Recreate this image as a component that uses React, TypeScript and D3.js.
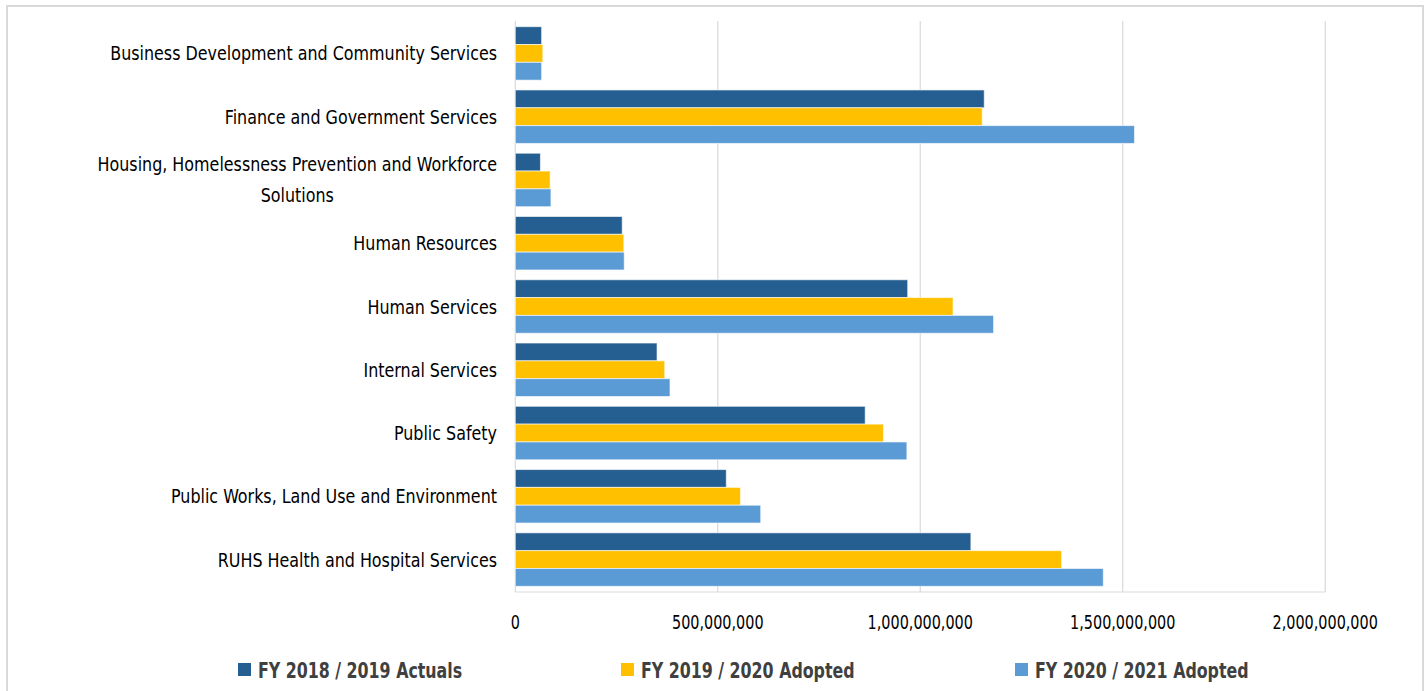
import React, { useEffect, useRef } from "react";
import * as d3 from "d3";

const categories = [
  "Business Development and Community Services",
  "Finance and Government Services",
  "Housing, Homelessness Prevention and Workforce|Solutions",
  "Human Resources",
  "Human Services",
  "Internal Services",
  "Public Safety",
  "Public Works, Land Use and Environment",
  "RUHS Health and Hospital Services",
];

const seriesNames = [
  "FY 2018 / 2019 Actuals",
  "FY 2019 / 2020 Adopted",
  "FY 2020 / 2021 Adopted",
];

const actuals1819 = [65e6, 1158e6, 62e6, 264e6, 969e6, 350e6, 864e6, 521e6, 1125e6];
const adopted1920 = [68e6, 1153e6, 86e6, 268e6, 1081e6, 369e6, 909e6, 556e6, 1349e6];
const adopted2021 = [65e6, 1529e6, 88e6, 269e6, 1181e6, 382e6, 967e6, 606e6, 1452e6];

const xTicks = [0, 500e6, 1000e6, 1500e6, 2000e6];
const colors = ["#255E91", "#FFC000", "#5B9BD5"];

const FONT = "'DejaVu Sans Condensed', 'Liberation Sans Narrow', 'Arial Narrow', sans-serif";

export default function App() {
  const ref = useRef<SVGSVGElement | null>(null);

  useEffect(() => {
    const svg = d3.select(ref.current);
    svg.selectAll("*").remove();

    const left = 515.3, right = 1325.2, top = 21, bottom = 592;
    const x = d3.scaleLinear().domain([0, 2000e6]).range([left, right]);
    const y = d3.scaleBand<number>().domain(d3.range(categories.length)).range([top, bottom]).paddingInner(0.155).paddingOuter(0.09);
    const ySub = d3.scaleBand<number>().domain([0, 1, 2]).range([0, y.bandwidth()]);
    const series = [actuals1819, adopted1920, adopted2021];

    // outer border
    svg.append("rect").attr("x", 7).attr("y", 6).attr("width", 1416).attr("height", 720)
      .attr("fill", "#fff").attr("stroke", "#d9d9d9").attr("stroke-width", 2);

    // gridlines
    svg.append("g").selectAll("line").data(xTicks).join("line")
      .attr("x1", (d) => x(d)).attr("x2", (d) => x(d))
      .attr("y1", top).attr("y2", bottom)
      .attr("stroke", "#d9d9d9").attr("stroke-width", 1.2);
    svg.append("line").attr("x1", left).attr("x2", right).attr("y1", bottom).attr("y2", bottom)
      .attr("stroke", "#d9d9d9").attr("stroke-width", 1.2);

    // bars
    const groups = svg.append("g").selectAll("g").data(categories).join("g")
      .attr("transform", (_, i) => `translate(0,${y(i)})`);
    groups.selectAll("rect").data((_, i) => series.map((s, k) => ({ k, v: s[i] }))).join("rect")
      .attr("x", x(0))
      .attr("y", (d) => ySub(d.k)!)
      .attr("width", (d) => x(d.v) - x(0))
      .attr("height", ySub.bandwidth())
      .attr("fill", (d) => colors[d.k])
      .attr("stroke", "#fff").attr("stroke-opacity", 0.6).attr("stroke-width", 1);

    // category labels
    const SX_LABEL = 0.885;
    const labelG = svg.append("g").attr("font-family", FONT).attr("font-size", 20).attr("fill", "#000");
    categories.forEach((c, i) => {
      const lines = c.split("|");
      const cy = y(i)! + y.bandwidth() / 2;
      const lh = 31;
      const y0 = cy - ((lines.length - 1) * lh) / 2;
      const first = labelG.append("text")
        .attr("transform", `translate(497,${y0}) scale(${SX_LABEL},1)`)
        .attr("dy", "0.35em").attr("text-anchor", "end").text(lines[0]);
      if (lines.length > 1) {
        const w = (first.node() as SVGTextElement).getComputedTextLength() * SX_LABEL;
        const center = 497 - w / 2;
        for (let j = 1; j < lines.length; j++) {
          labelG.append("text")
            .attr("transform", `translate(${center},${y0 + j * lh}) scale(${SX_LABEL},1)`)
            .attr("dy", "0.35em").attr("text-anchor", "middle").text(lines[j]);
        }
      }
    });

    // x tick labels
    const fmt = d3.format(",");
    svg.append("g").attr("font-family", FONT).attr("font-size", 20).attr("fill", "#000")
      .selectAll("text").data(xTicks).join("text")
      .attr("transform", (d) => `translate(${x(d)},622) scale(0.8,1)`).attr("dy", "0.35em")
      .attr("text-anchor", "middle").text((d) => fmt(d));

    // legend
    const legendX = [238, 621, 1015];
    const lg = svg.append("g").attr("font-family", FONT).attr("font-size", 22).attr("font-weight", "bold").attr("fill", "#404040");
    seriesNames.forEach((n, k) => {
      lg.append("rect").attr("x", legendX[k]).attr("y", 663).attr("width", 13).attr("height", 13).attr("fill", colors[k]);
      lg.append("text").attr("transform", `translate(${legendX[k] + 20},670) scale(0.8,1)`).attr("dy", "0.35em").text(n);
    });
  }, []);

  return (
    <svg ref={ref} width={1428} height={691} style={{ position: "absolute", left: 0, top: 0, display: "block" }} />
  );
}
